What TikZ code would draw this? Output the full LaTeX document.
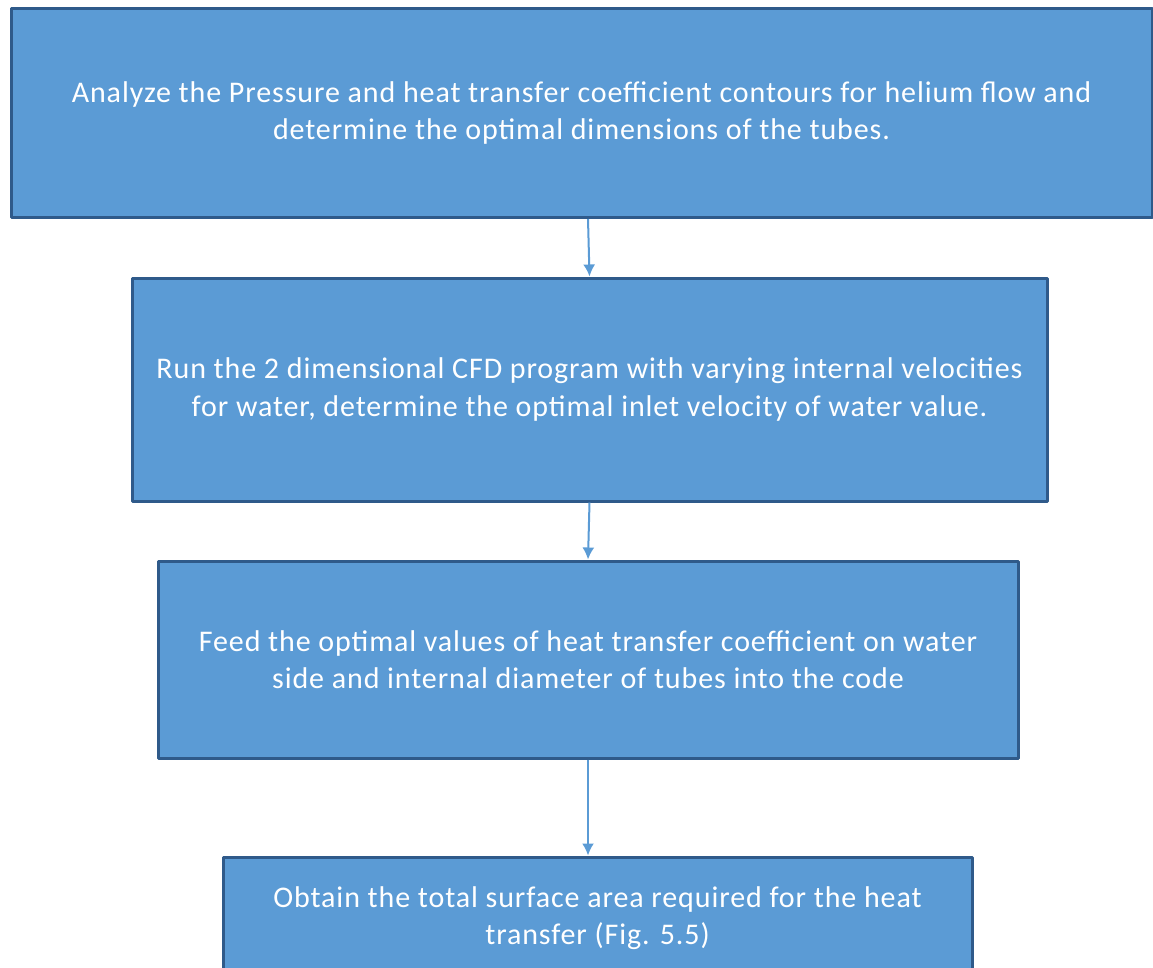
\documentclass[tikz,border=0pt]{standalone}
\usepackage{fontspec}
\setmainfont{Carlito}[LetterSpace=3.0]
\usetikzlibrary{arrows.meta}
\definecolor{boxfill}{HTML}{5B9BD5}
\definecolor{boxline}{HTML}{2F5A8A}
\begin{document}
\begin{tikzpicture}[x=1pt,y=-1pt,>={Latex[length=12pt,width=12pt]},line join=bevel,
  stepbox/.style={draw=boxline,line width=3pt,fill=boxfill,text=white,align=center,
    inner sep=0pt,font=\fontsize{30}{37.5}\selectfont},
  flow/.style={boxfill,line width=2pt,->}]
\useasboundingbox (0,0) rectangle (1153,967);
\clip (0,0) rectangle (1153,967);
%%
\node (box_1) at (581.5,113) [stepbox,minimum width=1141,minimum height=209] {Analyze the Pressure and heat transfer coefficient contours for helium flow and\\ determine the optimal dimensions of the tubes.};
  \node (box_2) at (589.5,389.5) [stepbox,minimum width=915,minimum height=223] {Run the 2 dimensional CFD program with varying internal velocities\\ for water, determine the optimal inlet velocity of water value.};
  \node (box_3) at (588,659.5) [stepbox,minimum width=860,minimum height=197] {Feed the optimal values of heat transfer coefficient on water\\ side and internal diameter of tubes into the code};
  \node (box_4) at (597.5,918) [stepbox,minimum width=749,minimum height=122] {Obtain the total surface area required for the heat\\ transfer (Fig. 5.5)};
  \draw [flow] ([xshift=6.5pt]box_1.south) -- (box_2.north);
  \draw [flow] (box_2.south) -- (box_3.north);
  \draw [flow] (box_3.south) -- ([xshift=-9.5pt]box_4.north);
%
\end{tikzpicture}
\end{document}
